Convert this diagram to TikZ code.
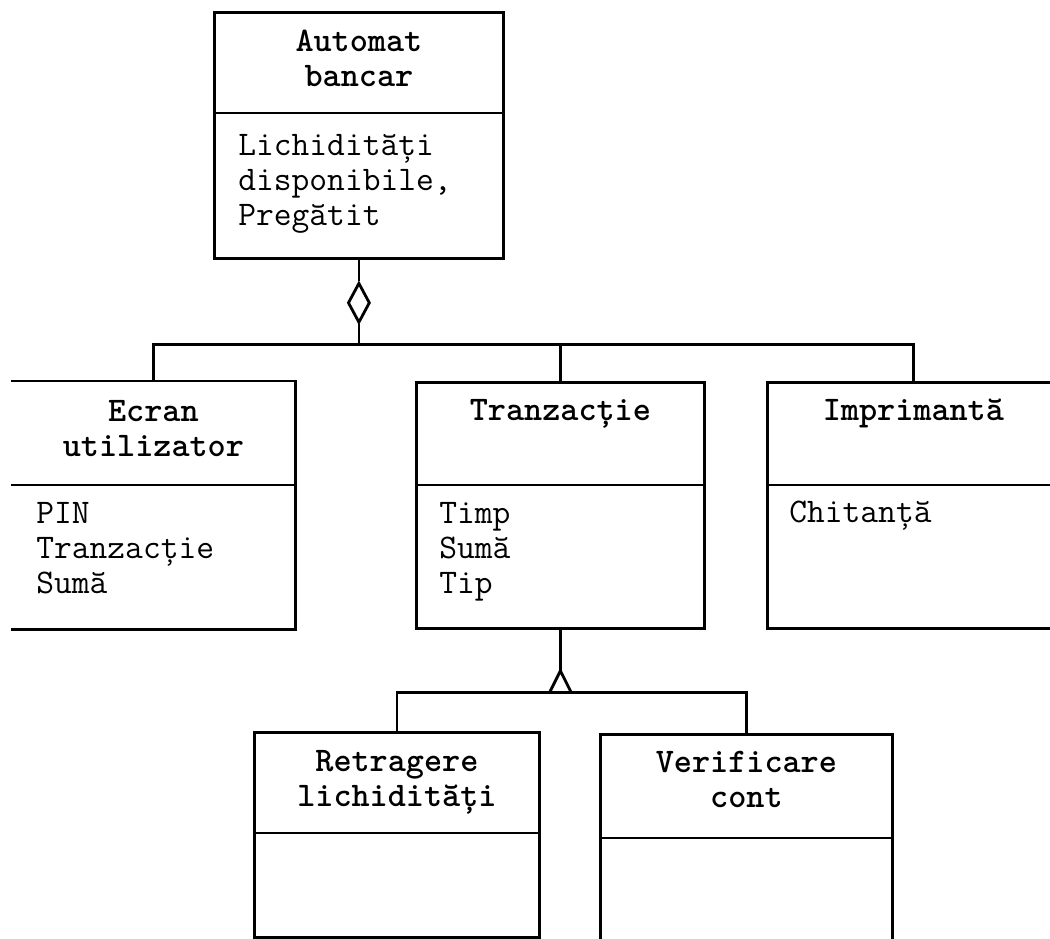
\documentclass[tikz,border=0pt]{standalone}
\usepackage{fontspec}
\usetikzlibrary{calc,shapes.geometric}
\begin{document}
\begin{tikzpicture}[x=1pt,y=-1pt,line width=2.8pt,
  classbox/.style={draw,inner sep=0pt,anchor=north west,line join=miter},
  openbox/.style={inner sep=0pt,anchor=north west},
  title/.style={font=\ttfamily\bfseries\fontsize{34.5}{35}\selectfont,
    anchor=base,inner sep=0pt,align=center},
  attr/.style={font=\ttfamily\fontsize{34.5}{35}\selectfont,
    anchor=base west,inner sep=0pt,align=left},
  aggr/.style={draw,diamond,inner sep=0pt,minimum width=22pt,minimum height=40pt,line join=miter}]
\useasboundingbox (0,0) rectangle (1050,938);
\clip (0,0) rectangle (1050,938);

% class boxes
\node[classbox,minimum width=289pt,minimum height=246pt] (auto) at (213,11) {};
\node[openbox,minimum width=282pt,minimum height=246pt] (ecran) at (11,381) {};
\node[classbox,minimum width=288pt,minimum height=246pt] (tranz) at (415,381) {};
\node[classbox,minimum width=292pt,minimum height=246pt] (impr) at (766,381) {};
\node[classbox,minimum width=285pt,minimum height=205pt] (retr) at (253,731) {};
\node[classbox,minimum width=292pt,minimum height=220pt] (verif) at (599,733) {};

% the screen box is open on its left side
\draw[line join=miter] (ecran.north west) -- (ecran.north east)
  -- (ecran.south east) -- (ecran.south west);

% compartment dividers
\draw ($(auto.north west)+(0,102)$) -- ($(auto.north east)+(0,102)$);
\draw ($(ecran.north west)+(0,104)$) -- ($(ecran.north east)+(0,104)$);
\draw ($(tranz.north west)+(0,104)$) -- ($(tranz.north east)+(0,104)$);
\draw ($(impr.north west)+(0,104)$) -- ($(impr.north east)+(0,104)$);
\draw ($(retr.north west)+(0,102)$) -- ($(retr.north east)+(0,102)$);
\draw ($(verif.north west)+(0,105)$) -- ($(verif.north east)+(0,105)$);

% class names (a node's base is the baseline of its last line)
\node[title] (autoT) at ($(auto.north)+(0,75)$) {Automat\\bancar};
\node[title] (ecranT) at ($(ecran.north)+(0,75)$) {Ecran\\utilizator};
\node[title] (tranzT) at ($(tranz.north)+(0,39)$) {Tranzacție};
\node[title] (imprT) at ($(impr.north)+(0,39)$) {Imprimantă};
\node[title] (retrT) at ($(retr.north)+(0,75)$) {Retragere\\lichidități};
\node[title] (verifT) at ($(verif.north)+(0,74)$) {Verificare\\cont};

% attributes
\node[attr] (autoA) at ($(auto.north west)+(24,214)$) {Lichidități\\disponibile,\\Pregătit};
\node[attr] (ecranA) at ($(ecran.north west)+(24,212)$) {PIN\\Tranzacție\\Sumă};
\node[attr] (tranzA) at ($(tranz.north west)+(23,212)$) {Timp\\Sumă\\Tip};
\node[attr] (imprA) at ($(impr.north west)+(22,141)$) {Chitanță};

% aggregation: the bank machine is made of three parts
\node[aggr] (agg) at ($(auto.south)+(0,43)$) {};
\coordinate (bus) at ($(agg.south)+(0,20)$);
\draw (auto.south) -- (agg.north);
\draw (agg.south) -- (bus);
\draw (ecran.north) |- (bus) -| (impr.north);
\draw (tranz.north) -- (tranz.north |- bus);

% generalisation: two kinds of transaction
\coordinate (tip) at ($(tranz.south)+(0,41)$);
\coordinate (bus2) at ($(tip)+(0,22)$);
\draw (tranz.south) -- (tip);
\draw[line join=miter] ($(bus2)+(-11,0)$) -- (tip) -- ($(bus2)+(11,0)$);
\draw (retr.north) |- (bus2) -| (verif.north);
\end{tikzpicture}
\end{document}
